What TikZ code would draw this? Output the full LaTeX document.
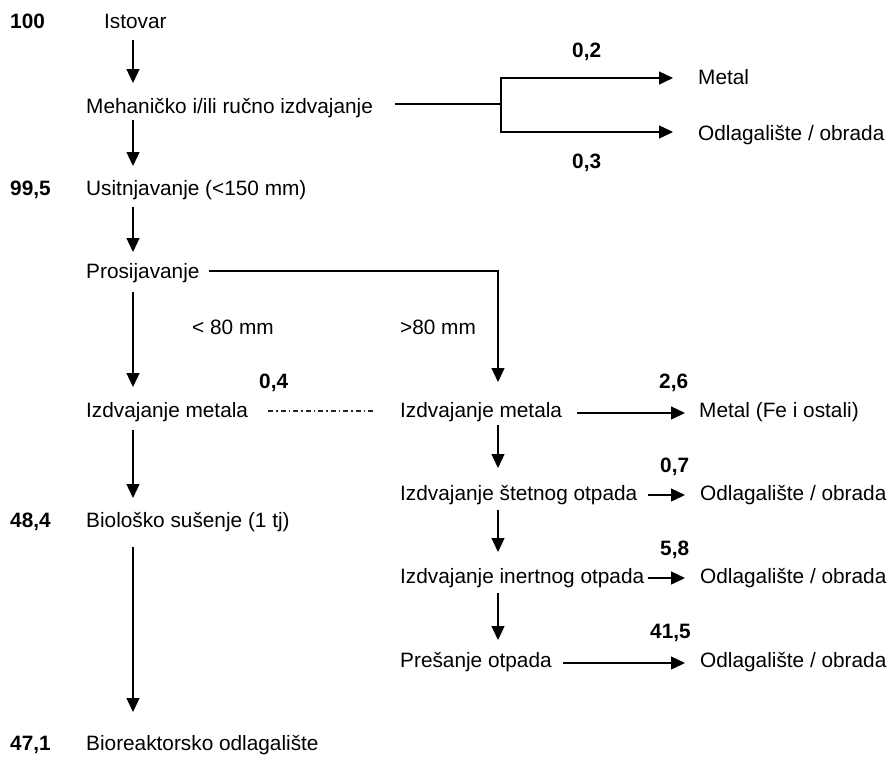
\documentclass[tikz,border=0pt]{standalone}
\usepackage{fontspec}
\setmainfont{Liberation Sans}
\usetikzlibrary{arrows.meta,calc}
\newcommand\dfont{\fontsize{20.8}{24}\selectfont}
\begin{document}
\begin{tikzpicture}[x=1pt,y=-1pt,
  lbl/.style={anchor=base west, inner sep=0pt, font=\dfont},
  num/.style={anchor=base west, inner sep=0pt, font=\dfont\bfseries},
  arr/.style={line width=1.3pt, -{Triangle[length=14pt,width=13pt]}},
  ln/.style={line width=1.3pt},
  dd/.style={line width=1.1pt, black!85, dash pattern=on 5pt off 3pt on 1.5pt off 3pt}]
\useasboundingbox[fill=white] (0,0) rectangle (892,756);
% left column
\node[num] (n100) at (10,28) {100};
\node[lbl] (istovar) at (104,28) {Istovar};
\node[lbl] (meh) at (86,113) {Mehaničko i/ili ručno izdvajanje};
\node[num] (n995) at (10,195) {99,5};
\node[lbl] (usit) at (86,195) {Usitnjavanje (<150 mm)};
\node[lbl] (pros) at (86,278) {Prosijavanje};
\node[lbl] (lt80) at (192,334) {< 80 mm};
\node[lbl] (gt80) at (400,334) {>80 mm};
\node[lbl] (izdL) at (86,417) {Izdvajanje metala};
\node[num] (n04) at (259,388) {0,4};
\node[num] (n484) at (10,527) {48,4};
\node[lbl] (bio) at (86,527) {Biološko sušenje (1 tj)};
\node[num] (n471) at (10,750) {47,1};
\node[lbl] (bior) at (86,750) {Bioreaktorsko odlagalište};
% top branch
\node[num] (n02) at (572,57) {0,2};
\node[lbl] (metal) at (698,84) {Metal};
\node[lbl] (odl1) at (698,140) {Odlagalište / obrada};
\node[num] (n03) at (572,168) {0,3};
% right column
\node[lbl] (izdR) at (400,417) {Izdvajanje metala};
\node[num] (n26) at (659,388) {2,6};
\node[lbl] (metalfe) at (699,417) {Metal (Fe i ostali)};
\node[num] (n07) at (660,472) {0,7};
\node[lbl] (stet) at (400,500) {Izdvajanje štetnog otpada};
\node[lbl] (odl2) at (700,500) {Odlagalište / obrada};
\node[num] (n58) at (660,555) {5,8};
\node[lbl] (inert) at (400,583) {Izdvajanje inertnog otpada};
\node[lbl] (odl3) at (700,583) {Odlagalište / obrada};
\node[num] (n415) at (650,638) {41,5};
\node[lbl] (pres) at (400,667) {Prešanje otpada};
\node[lbl] (odl4) at (700,667) {Odlagalište / obrada};
% left vertical arrows
\draw[arr] ($(istovar.base west)+(29,12)$) -- ($(meh.base west)+(47,-30)$);
\draw[arr] ($(meh.base west)+(47,7)$) -- ($(usit.base west)+(47,-29)$);
\draw[arr] ($(usit.base west)+(47,12)$) -- ($(pros.base west)+(47,-26)$);
\draw[arr] ($(pros.base west)+(47,14)$) -- ($(izdL.base west)+(47,-30)$);
\draw[arr] ($(izdL.base west)+(47,13)$) -- ($(bio.base west)+(47,-29)$);
\draw[arr] ($(bio.base west)+(47,20)$) -- ($(bior.base west)+(47,-38)$);
% fork after Mehanicko
\coordinate (fork) at ($(meh.base west)+(415,-9)$);
\draw[ln] ($(meh.base west)+(309,-9)$) -- (fork);
\draw[arr] (fork) |- ($(metal.base west)+(-25,-6)$);
\draw[arr] (fork) |- ($(odl1.base west)+(-25,-8)$);
% screening to right column
\draw[arr] ($(pros.base west)+(123,-7)$) -| ($(izdR.base west)+(98,-35)$);
% right vertical arrows
\draw[arr] ($(izdR.base west)+(98,8)$) -- ($(stet.base west)+(98,-32)$);
\draw[arr] ($(stet.base west)+(98,10)$) -- ($(inert.base west)+(98,-31)$);
\draw[arr] ($(inert.base west)+(98,10)$) -- ($(pres.base west)+(98,-27)$);
% right horizontal arrows
\draw[arr] ($(izdR.base west)+(177,-4)$) -- ($(metalfe.base west)+(-14,-4)$);
\draw[arr] ($(stet.base west)+(248,-5)$) -- ($(odl2.base west)+(-15,-5)$);
\draw[arr] ($(inert.base west)+(248,-5)$) -- ($(odl3.base west)+(-15,-5)$);
\draw[arr] ($(pres.base west)+(163,-4)$) -- ($(odl4.base west)+(-15,-4)$);
% dash-dot link
\draw[dd] ($(izdL.base west)+(182,-6)$) -- ($(izdR.base west)+(-27,-6)$);
\end{tikzpicture}
\end{document}
